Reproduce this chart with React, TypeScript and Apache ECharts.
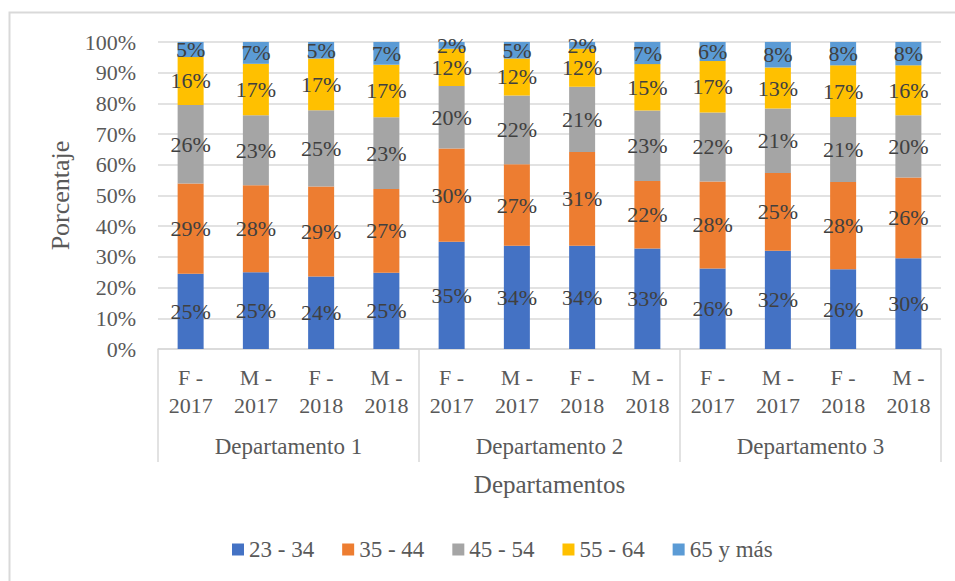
import React, { useEffect, useRef } from "react";
import * as echarts from "echarts";

const categories = [
  "F -\n2017", "M -\n2017", "F -\n2018", "M -\n2018",
  "F -\n2017", "M -\n2017", "F -\n2018", "M -\n2018",
  "F -\n2017", "M -\n2017", "F -\n2018", "M -\n2018",
];
const departments = ["Departamento 1", "Departamento 2", "Departamento 3"];
const seriesNames = ["23 - 34", "35 - 44", "45 - 54", "55 - 64", "65 y más"];
const age23_34 = [24.5, 25.0, 23.6, 24.8, 34.9, 33.6, 33.6, 32.7, 26.2, 32.0, 26.0, 29.6];
const age35_44 = [29.4, 28.3, 29.3, 27.3, 30.4, 26.6, 30.6, 22.0, 28.4, 25.3, 28.4, 26.3];
const age45_54 = [25.6, 22.8, 24.9, 23.4, 20.4, 22.4, 21.2, 23.0, 22.4, 21.0, 21.2, 20.2];
const age55_64 = [15.6, 16.8, 16.8, 17.1, 12.1, 12.0, 12.4, 15.1, 16.8, 13.4, 16.8, 16.3];
const age65plus = [4.9, 7.1, 5.4, 7.4, 2.2, 5.4, 2.2, 7.2, 6.2, 8.3, 7.6, 7.6];
const yTicks = [0, 100, 10];
const colors = ["#4472C4", "#ED7D31", "#A5A5A5", "#FFC000", "#5B9BD5"];

const FONT = "'Liberation Serif', 'Times New Roman', serif";

export default function App() {
  const ref = useRef<HTMLDivElement>(null);
  useEffect(() => {
    if (!ref.current) return;
    const chart = echarts.init(ref.current, null, { renderer: "svg" });
    const data = [age23_34, age35_44, age45_54, age55_64, age65plus];
    chart.setOption({
      animation: false,
      backgroundColor: "#ffffff",
      textStyle: { fontFamily: FONT },
      graphic: [
        {
          type: "rect",
          shape: { x: 9.5, y: 12.5, width: 1000, height: 700 },
          style: { fill: "none", stroke: "#d9d9d9", lineWidth: 2 },
          silent: true,
        },
      ],
      grid: { left: 158, right: 14, top: 42, bottom: 232, containLabel: false },
      legend: {
        bottom: 15,
        left: 227,
        icon: "rect",
        itemWidth: 12,
        itemHeight: 12,
        itemGap: 28,
        textStyle: { fontFamily: FONT, fontSize: 23, color: "#595959" },
        data: seriesNames,
      },
      xAxis: [
        {
          type: "category",
          data: categories,
          axisLine: { lineStyle: { color: "#d9d9d9", width: 1.5 } },
          axisTick: { show: false },
          axisLabel: {
            interval: 0,
            margin: 14,
            fontFamily: FONT,
            fontSize: 22,
            color: "#595959",
            lineHeight: 28,
          },
        },
        {
          type: "category",
          data: departments,
          position: "bottom",
          axisLine: { show: false },
          axisTick: {
            show: true,
            length: 113,
            lineStyle: { color: "#d9d9d9", width: 1.5 },
          },
          axisLabel: {
            margin: 86,
            fontFamily: FONT,
            fontSize: 23,
            color: "#595959",
          },
          name: "Departamentos",
          nameLocation: "middle",
          nameGap: 123,
          nameTextStyle: { fontFamily: FONT, fontSize: 25, color: "#595959" },
        },
      ],
      yAxis: {
        type: "value",
        min: yTicks[0],
        max: yTicks[1],
        interval: yTicks[2],
        axisLine: { show: false },
        axisTick: { show: false },
        splitLine: { lineStyle: { color: "#d9d9d9", width: 1.5 } },
        axisLabel: {
          formatter: "{value}%",
          margin: 22,
          fontFamily: FONT,
          fontSize: 22,
          color: "#595959",
        },
        name: "Porcentaje",
        nameLocation: "middle",
        nameGap: 84,
        nameTextStyle: { fontFamily: FONT, fontSize: 26, color: "#595959" },
      },
      series: seriesNames.map((name, i) => ({
        name,
        type: "bar",
        stack: "total",
        xAxisIndex: 0,
        barWidth: 26,
        itemStyle: { color: colors[i] },
        label: {
          show: true,
          position: "inside",
          formatter: (p: any) => Math.round(p.value) + "%",
          fontFamily: FONT,
          fontSize: 22,
          color: "#404040",
        },
        data: data[i],
      })),
    });
    return () => chart.dispose();
  }, []);
  return (
    <div
      ref={ref}
      style={{ position: "fixed", left: 0, top: 0, width: 955, height: 581 }}
    />
  );
}
